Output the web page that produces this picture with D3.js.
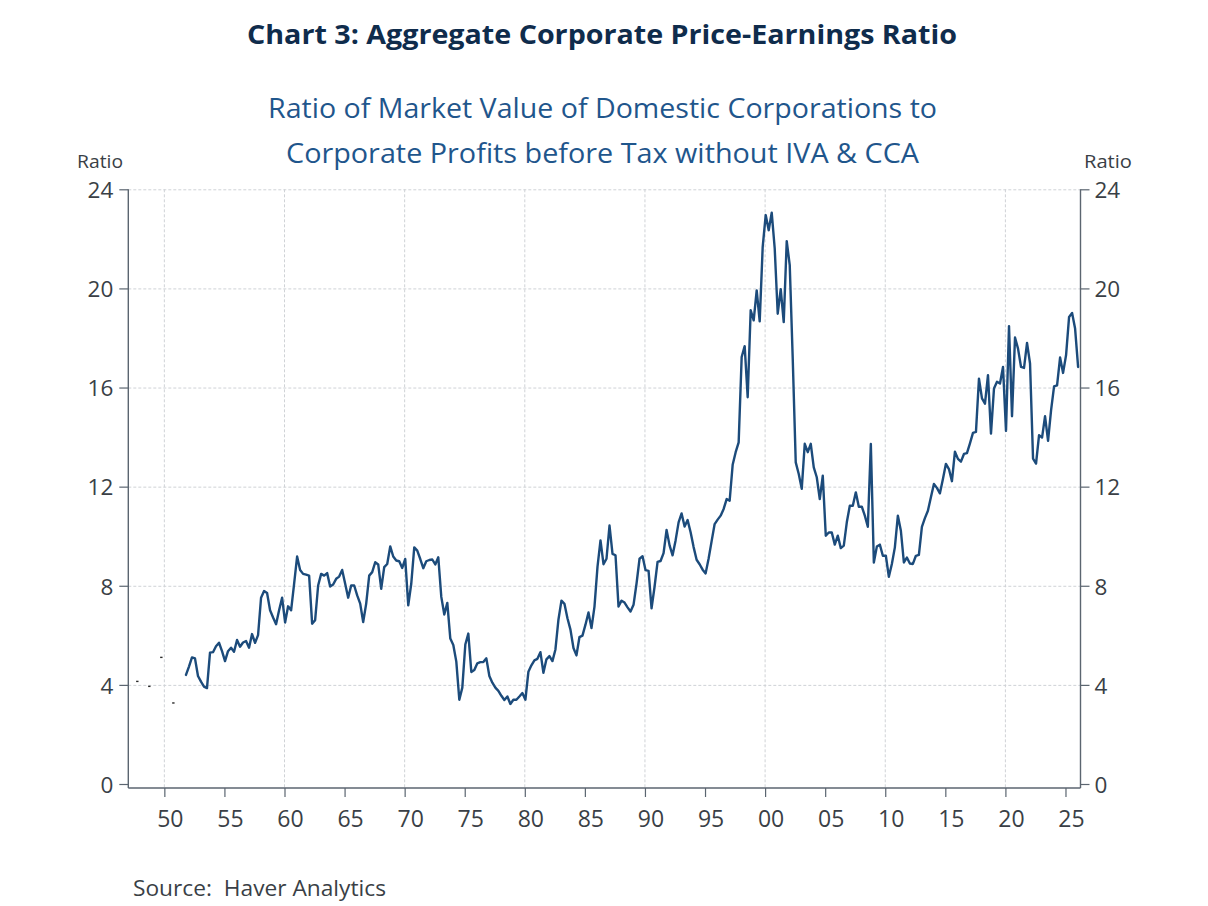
<!DOCTYPE html>
<html>
<head>
<meta charset="utf-8">
<script src="https://cdn.jsdelivr.net/npm/d3@7"></script>
<style>
  body { margin: 0; background: #ffffff; }
  svg { display: block; }
  text { font-family: "Open Sans", "Noto Sans", sans-serif; }
</style>
</head>
<body>
<svg id="chart" width="1208" height="906"></svg>
<script>
// ---------------- DATA ----------------
const titleText = "Chart 3: Aggregate Corporate Price-Earnings Ratio";
const subtitleLines = [
  "Ratio of Market Value of Domestic Corporations to",
  "Corporate Profits before Tax without IVA & CCA"
];
const sourceText = "Source:  Haver Analytics";
const axisUnit = "Ratio";

const yTicks = [0, 4, 8, 12, 16, 20, 24];
const yGridValues = [4, 8, 12, 16, 20, 24];
const xTickYears = [1950, 1955, 1960, 1965, 1970, 1975, 1980, 1985, 1990, 1995, 2000, 2005, 2010, 2015, 2020, 2025];
const xTickLabels = ["50", "55", "60", "65", "70", "75", "80", "85", "90", "95", "00", "05", "10", "15", "20", "25"];
const xGridYears = [1950, 1960, 1970, 1980, 1990, 2000, 2010, 2020];

// quarterly series, first observation 1951 Q4
const startYear = 1951;
const startQuarter = 4;
const peRatio = [
  4.40,                         // 1951 Q4
  4.74, 5.11, 5.07, 4.36,       // 1952
  4.13, 3.93, 3.87, 5.30,       // 1953
  5.32, 5.56, 5.70, 5.36,       // 1954
  4.96, 5.36, 5.50, 5.34,       // 1955
  5.81, 5.54, 5.71, 5.77,       // 1956
  5.50, 6.05, 5.70, 6.01,       // 1957
  7.52, 7.79, 7.71, 7.01,       // 1958
  6.72, 6.45, 7.01, 7.52,       // 1959
  6.52, 7.17, 7.01, 8.08,       // 1960
  9.18, 8.64, 8.48, 8.45,       // 1961
  8.41, 6.47, 6.61, 8.01,       // 1962
  8.48, 8.41, 8.51, 7.97,       // 1963
  8.05, 8.28, 8.37, 8.64,       // 1964
  8.08, 7.52, 8.01, 8.01,       // 1965
  7.61, 7.28, 6.54, 7.28,       // 1966
  8.41, 8.55, 8.95, 8.86,       // 1967
  7.88, 8.75, 8.88, 9.59,       // 1968
  9.18, 9.02, 8.99, 8.72,       // 1969
  9.08, 7.21, 8.08, 9.55,       // 1970
  9.42, 9.08, 8.71, 8.99,       // 1971
  9.04, 9.06, 8.86, 9.15,       // 1972
  7.55, 6.84, 7.31, 5.87,       // 1973
  5.61, 4.94, 3.40, 3.89,       // 1974
  5.63, 6.07, 4.52, 4.60,       // 1975
  4.87, 4.92, 4.92, 5.07,       // 1976
  4.36, 4.09, 3.89, 3.76,       // 1977
  3.56, 3.39, 3.53, 3.23,       // 1978
  3.40, 3.40, 3.53, 3.67,       // 1979
  3.40, 4.53, 4.79, 4.99,       // 1980
  5.05, 5.32, 4.49, 5.03,       // 1981
  5.16, 4.96, 5.43, 6.63,       // 1982
  7.40, 7.27, 6.69, 6.23,       // 1983
  5.49, 5.19, 5.93, 5.99,       // 1984
  6.43, 6.92, 6.29, 7.16,       // 1985
  8.76, 9.83, 8.87, 9.09,       // 1986
  10.43, 9.29, 9.23, 7.16,      // 1987
  7.40, 7.32, 7.13, 6.96,       // 1988
  7.23, 8.09, 9.09, 9.19,       // 1989
  8.63, 8.60, 7.09, 7.96,       // 1990
  8.96, 9.00, 9.32, 10.25,      // 1991
  9.63, 9.23, 9.83, 10.56,      // 1992
  10.92, 10.39, 10.65, 10.16,   // 1993
  9.56, 9.05, 8.87, 8.65,       // 1994
  8.50, 9.10, 9.80, 10.49,      // 1995
  10.67, 10.83, 11.10, 11.50,   // 1996
  11.43, 12.88, 13.39, 13.79,   // 1997
  17.23, 17.67, 15.61, 19.12,   // 1998
  18.71, 19.92, 18.67, 21.68,   // 1999
  22.96, 22.35, 23.06, 21.61,   // 2000
  18.98, 19.97, 18.64, 21.91,   // 2001
  20.94, 17.16, 12.98, 12.51,   // 2002
  11.91, 13.73, 13.39, 13.73,   // 2003
  12.78, 12.38, 11.50, 12.44,   // 2004
  10.02, 10.15, 10.15, 9.66,    // 2005
  10.02, 9.52, 9.62, 10.56,     // 2006
  11.23, 11.23, 11.77, 11.19,   // 2007
  11.19, 10.83, 10.38, 13.72,   // 2008
  8.94, 9.58, 9.66, 9.21,       // 2009
  9.21, 8.36, 8.88, 9.55,       // 2010
  10.83, 10.22, 8.94, 9.14,     // 2011
  8.90, 8.88, 9.21, 9.25,       // 2012
  10.38, 10.73, 11.03, 11.57,   // 2013
  12.11, 11.95, 11.73, 12.31,   // 2014
  12.92, 12.71, 12.22, 13.41,   // 2015
  13.12, 13.01, 13.32, 13.35,   // 2016
  13.75, 14.17, 14.21, 16.36,   // 2017
  15.56, 15.35, 16.50, 14.14,   // 2018
  15.96, 16.23, 16.16, 16.83,   // 2019
  14.25, 18.48, 14.84, 18.02,   // 2020
  17.57, 16.83, 16.79, 17.80,   // 2021
  16.97, 13.13, 12.93, 14.08,   // 2022
  13.98, 14.84, 13.85, 15.08,   // 2023
  16.05, 16.09, 17.21, 16.59,   // 2024
  17.31, 18.85, 19.01, 18.38,   // 2025
  16.83                         // 2026 Q1
];

// isolated early observations (drawn as single points, no connecting line)
const earlyYears = [1947.75, 1948.75, 1949.75, 1950.75];
const earlyValues = [4.14, 3.94, 5.11, 3.27];

// ---------------- CHART ----------------
const svg = d3.select("#chart");
const W = 1208, H = 906;
svg.append("rect").attr("width", W).attr("height", H).attr("fill", "#ffffff");

const plotLeft = 128.3, plotRight = 1080.5;
const yTop = 189.3, yZero = 784, xAxisY = 788;

const x = d3.scaleLinear().domain([1947, 2026.25]).range([plotLeft, plotRight]);
const y = d3.scaleLinear().domain([0, 24]).range([yZero, yTop]);

const axisColor = "#5b6570";
const textColor = "#3a3f46";
const gridColor = "#cfd2d6";

const series = peRatio.map((v, i) => ({
  t: startYear + (startQuarter - 1) / 4 + i / 4 + 0.05,
  v: v
}));

// gridlines
const grid = svg.append("g");
grid.selectAll("line.hg").data(yGridValues).enter().append("line")
  .attr("x1", plotLeft).attr("x2", plotRight)
  .attr("y1", d => y(d) + 0.5).attr("y2", d => y(d) + 0.5)
  .attr("stroke", gridColor).attr("stroke-width", 1)
  .attr("stroke-dasharray", "3,2");
grid.selectAll("line.vg").data(xGridYears).enter().append("line")
  .attr("x1", d => x(d)).attr("x2", d => x(d))
  .attr("y1", yTop).attr("y2", xAxisY)
  .attr("stroke", gridColor).attr("stroke-width", 1)
  .attr("stroke-dasharray", "3,2");

// left y axis
const yAxisL = d3.axisLeft(y).tickValues(yTicks).tickSize(9).tickPadding(6).tickFormat(d3.format("d"));
const gL = svg.append("g").attr("transform", `translate(${plotLeft},0)`).call(yAxisL);
gL.select(".domain").remove();
gL.selectAll(".tick line").attr("stroke", axisColor).attr("stroke-width", 1.2);
gL.selectAll(".tick text").attr("fill", textColor).attr("font-size", 22.5)
  .attr("font-family", '"Open Sans", sans-serif').attr("x", -15).attr("dy", "0.37em");
svg.append("line").attr("x1", plotLeft).attr("x2", plotLeft)
  .attr("y1", yTop).attr("y2", xAxisY)
  .attr("stroke", axisColor).attr("stroke-width", 1.4);

// right y axis
const yAxisR = d3.axisRight(y).tickValues(yTicks).tickSize(9).tickPadding(6).tickFormat(d3.format("d"));
const gR = svg.append("g").attr("transform", `translate(${plotRight},0)`).call(yAxisR);
gR.select(".domain").remove();
gR.selectAll(".tick line").attr("stroke", axisColor).attr("stroke-width", 1.2);
gR.selectAll(".tick text").attr("fill", textColor).attr("font-size", 22.5)
  .attr("font-family", '"Open Sans", sans-serif').attr("x", 14).attr("dy", "0.37em");
svg.append("line").attr("x1", plotRight).attr("x2", plotRight)
  .attr("y1", yTop).attr("y2", xAxisY)
  .attr("stroke", axisColor).attr("stroke-width", 1.4);

// x axis
const xAxis = d3.axisBottom(x).tickValues(xTickYears).tickSize(9).tickFormat(() => "");
const gX = svg.append("g").attr("transform", `translate(0,${xAxisY})`).call(xAxis);
gX.select(".domain").remove();
gX.selectAll(".tick line").attr("stroke", axisColor).attr("stroke-width", 1.2);
svg.append("line").attr("x1", plotLeft).attr("x2", plotRight)
  .attr("y1", xAxisY).attr("y2", xAxisY)
  .attr("stroke", axisColor).attr("stroke-width", 1.4);
svg.append("g").selectAll("text").data(xTickYears).enter().append("text")
  .attr("x", d => x(d + 0.5)).attr("y", 827)
  .attr("text-anchor", "middle").attr("font-size", 23).attr("fill", textColor)
  .text((d, i) => xTickLabels[i]);

// data line
const line = d3.line().x(d => x(d.t)).y(d => y(d.v)).curve(d3.curveLinear);
svg.append("path").datum(series)
  .attr("d", line).attr("fill", "none")
  .attr("stroke", "#1c4b7b").attr("stroke-width", 2.4)
  .attr("stroke-linejoin", "round").attr("stroke-linecap", "round");

// isolated early points
svg.append("g").selectAll("rect").data(earlyYears).enter().append("rect")
  .attr("x", d => x(d) - 1.2).attr("y", (d, i) => y(earlyValues[i]) - 0.7)
  .attr("width", 2.4).attr("height", 1.4).attr("fill", "#2a2a2a");

// texts
function addText(str, opts) {
  const t = svg.append("text")
    .attr("x", opts.x).attr("y", opts.y)
    .attr("text-anchor", opts.anchor || "start")
    .attr("font-size", opts.size)
    .attr("font-weight", opts.weight || "normal")
    .attr("fill", opts.color)
    .style("white-space", "pre")
    .attr("xml:space", "preserve")
    .text(str);
  if (opts.width) {
    t.attr("textLength", opts.width).attr("lengthAdjust", "spacingAndGlyphs");
  }
  return t;
}
addText(titleText, { x: 602, y: 43.5, anchor: "middle", size: 27.5, weight: "bold", color: "#0f2c4c", width: 710 });
addText(subtitleLines[0], { x: 602.5, y: 118, anchor: "middle", size: 27, color: "#1f568c", width: 669 });
addText(subtitleLines[1], { x: 602.5, y: 163, anchor: "middle", size: 27, color: "#1f568c", width: 633 });
addText(axisUnit, { x: 77, y: 167.5, size: 19, color: textColor, width: 46 });
addText(axisUnit, { x: 1084, y: 167.5, size: 19, color: textColor, width: 48 });
addText(sourceText, { x: 133, y: 896, size: 22, color: textColor, width: 253 });
</script>
</body>
</html>
